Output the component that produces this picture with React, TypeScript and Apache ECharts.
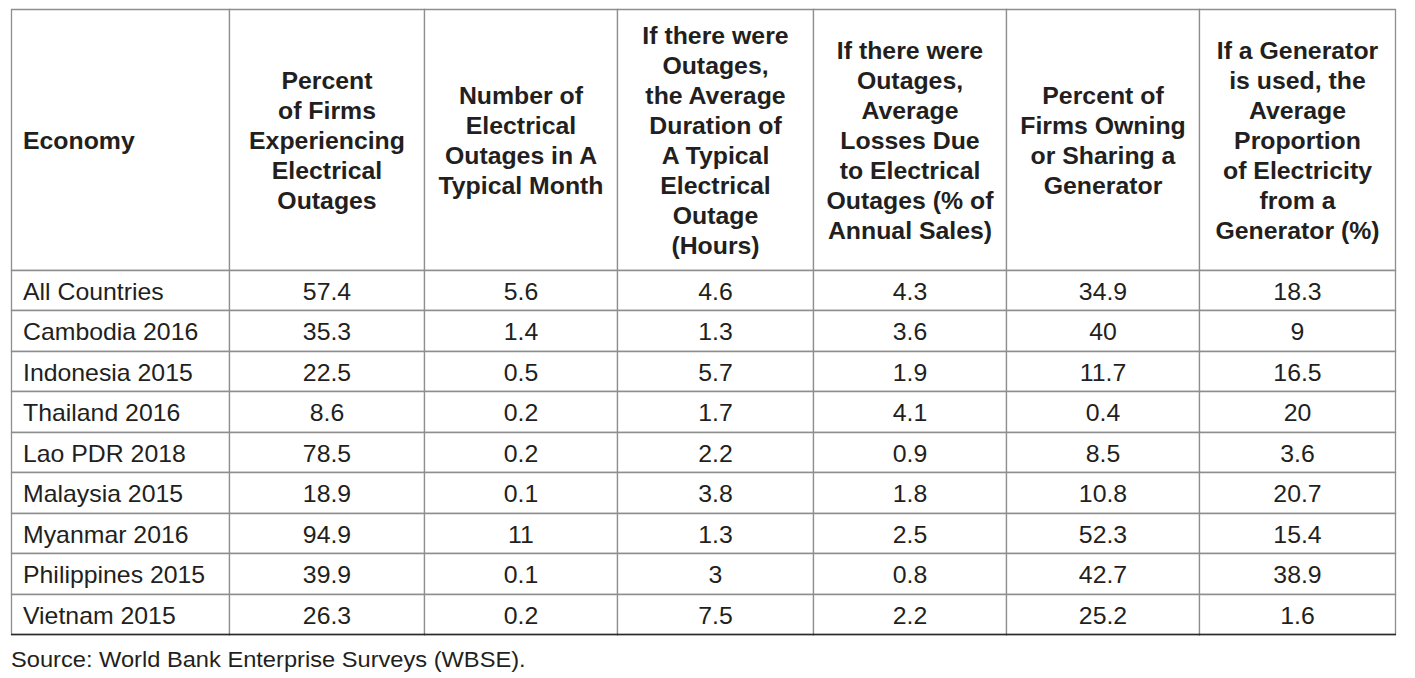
import React, { useEffect, useRef } from "react";
import * as echarts from "echarts";

// ---- data ----
const headers: string[] = [
  "Economy",
  "Percent\nof Firms\nExperiencing\nElectrical\nOutages",
  "Number of\nElectrical\nOutages in A\nTypical Month",
  "If there were\nOutages,\nthe Average\nDuration of\nA Typical\nElectrical\nOutage\n(Hours)",
  "If there were\nOutages,\nAverage\nLosses Due\nto Electrical\nOutages (% of\nAnnual Sales)",
  "Percent of\nFirms Owning\nor Sharing a\nGenerator",
  "If a Generator\nis used, the\nAverage\nProportion\nof Electricity\nfrom a\nGenerator (%)",
];
const economies: string[] = [
  "All Countries",
  "Cambodia 2016",
  "Indonesia 2015",
  "Thailand 2016",
  "Lao PDR 2018",
  "Malaysia 2015",
  "Myanmar 2016",
  "Philippines 2015",
  "Vietnam 2015",
];
const firmsExperiencingOutagesPct: number[] = [57.4, 35.3, 22.5, 8.6, 78.5, 18.9, 94.9, 39.9, 26.3];
const outagesPerMonth: number[] = [5.6, 1.4, 0.5, 0.2, 0.2, 0.1, 11, 0.1, 0.2];
const outageDurationHours: number[] = [4.6, 1.3, 5.7, 1.7, 2.2, 3.8, 1.3, 3, 7.5];
const lossesPctOfSales: number[] = [4.3, 3.6, 1.9, 4.1, 0.9, 1.8, 2.5, 0.8, 2.2];
const firmsOwningGeneratorPct: number[] = [34.9, 40, 11.7, 0.4, 8.5, 10.8, 52.3, 42.7, 25.2];
const electricityFromGeneratorPct: number[] = [18.3, 9, 16.5, 20, 3.6, 20.7, 15.4, 38.9, 1.6];
const sourceNote = "Source: World Bank Enterprise Surveys (WBSE).";

// ---- layout ----
const TABLE_W = 1384;
const TABLE_H = 625;
const COL_EDGES = [0, 218, 413, 606, 802, 995, 1188, 1384];
const HEADER_H = 261;
const ROW_H = (TABLE_H - HEADER_H) / economies.length;
const FONT = '"Liberation Sans", Arial, Helvetica, sans-serif';
const TEXT_COLOR = "#231f20";
const GRID_COLOR = "#8e8e8e";
const SX = 1.08;

type Cell = { col: number; row: number; text: string };

export default function App() {
  const ref = useRef<HTMLDivElement>(null);

  useEffect(() => {
    if (!ref.current) return;
    const chart = echarts.init(ref.current, undefined, { renderer: "svg" });

    const valueCols = [
      firmsExperiencingOutagesPct,
      outagesPerMonth,
      outageDurationHours,
      lossesPctOfSales,
      firmsOwningGeneratorPct,
      electricityFromGeneratorPct,
    ];
    const cells: Cell[] = [];
    headers.forEach((h, c) => cells.push({ col: c, row: -1, text: h }));
    economies.forEach((e, r) => {
      cells.push({ col: 0, row: r, text: e });
      valueCols.forEach((arr, i) => cells.push({ col: i + 1, row: r, text: String(arr[r]) }));
    });
    const nRows = economies.length;

    const option: echarts.EChartsOption = {
      animation: false,
      graphic: [
        {
          type: "text",
          x: 11,
          y: 660,
          scaleX: 1.1,
          style: {
            text: sourceNote,
            x: 0,
            y: 0,
            align: "left",
            verticalAlign: "middle",
            fontFamily: FONT,
            fontSize: 21.5,
            fill: TEXT_COLOR,
          },
        },
      ],
      grid: { left: 11, top: 9, width: TABLE_W, height: TABLE_H },
      xAxis: { type: "value", min: 0, max: TABLE_W, show: false },
      yAxis: { type: "value", min: 0, max: TABLE_H, inverse: true, show: false },
      series: [
        {
          type: "custom",
          coordinateSystem: "cartesian2d",
          data: cells.map((c) => [c.col, c.row]),
          renderItem: (params: any, api: any) => {
            const cell = cells[params.dataIndex];
            const c = cell.col;
            const r = cell.row;
            const x0 = COL_EDGES[c];
            const x1 = COL_EDGES[c + 1];
            const y0 = r < 0 ? 0 : HEADER_H + r * ROW_H;
            const y1 = r < 0 ? HEADER_H : y0 + ROW_H;
            const p0 = api.coord([x0, y0]);
            const p1 = api.coord([x1, y1]);
            const left = Math.round(p0[0]) + 0.5;
            const top = Math.round(p0[1]) + 0.5;
            const right = Math.round(p1[0]) + 0.5;
            const bottom = Math.round(p1[1]) + 0.5;
            const isHeader = r < 0;
            const children: any[] = [
              {
                type: "rect",
                shape: { x: left, y: top, width: right - left, height: bottom - top },
                style: { fill: "#ffffff", stroke: GRID_COLOR, lineWidth: 1.3 },
              },
            ];
            if (r === nRows - 1) {
              children.push({
                type: "line",
                shape: { x1: left - 0.5, y1: bottom, x2: right + 0.5, y2: bottom },
                style: { stroke: "#2a2a2a", lineWidth: 1.5 },
                z2: 5,
              });
            }
            const leftAligned = c === 0;
            children.push({
              type: "text",
              x: leftAligned ? left + 11.5 : (left + right) / 2,
              y: (top + bottom) / 2 + 1,
              scaleX: SX,
              z2: 10,
              style: {
                text: cell.text,
                x: 0,
                y: 0,
                align: leftAligned ? "left" : "center",
                verticalAlign: "middle",
                fontFamily: FONT,
                fontSize: 23,
                fontWeight: isHeader ? "bold" : "normal",
                lineHeight: 30,
                fill: TEXT_COLOR,
              },
            });
            return { type: "group", children };
          },
        } as any,
      ],
    };
    chart.setOption(option);
    return () => chart.dispose();
  }, []);

  return (
    <div
      ref={ref}
      style={{ position: "absolute", left: 0, top: 0, width: 1415, height: 678, background: "#ffffff" }}
    />
  );
}
